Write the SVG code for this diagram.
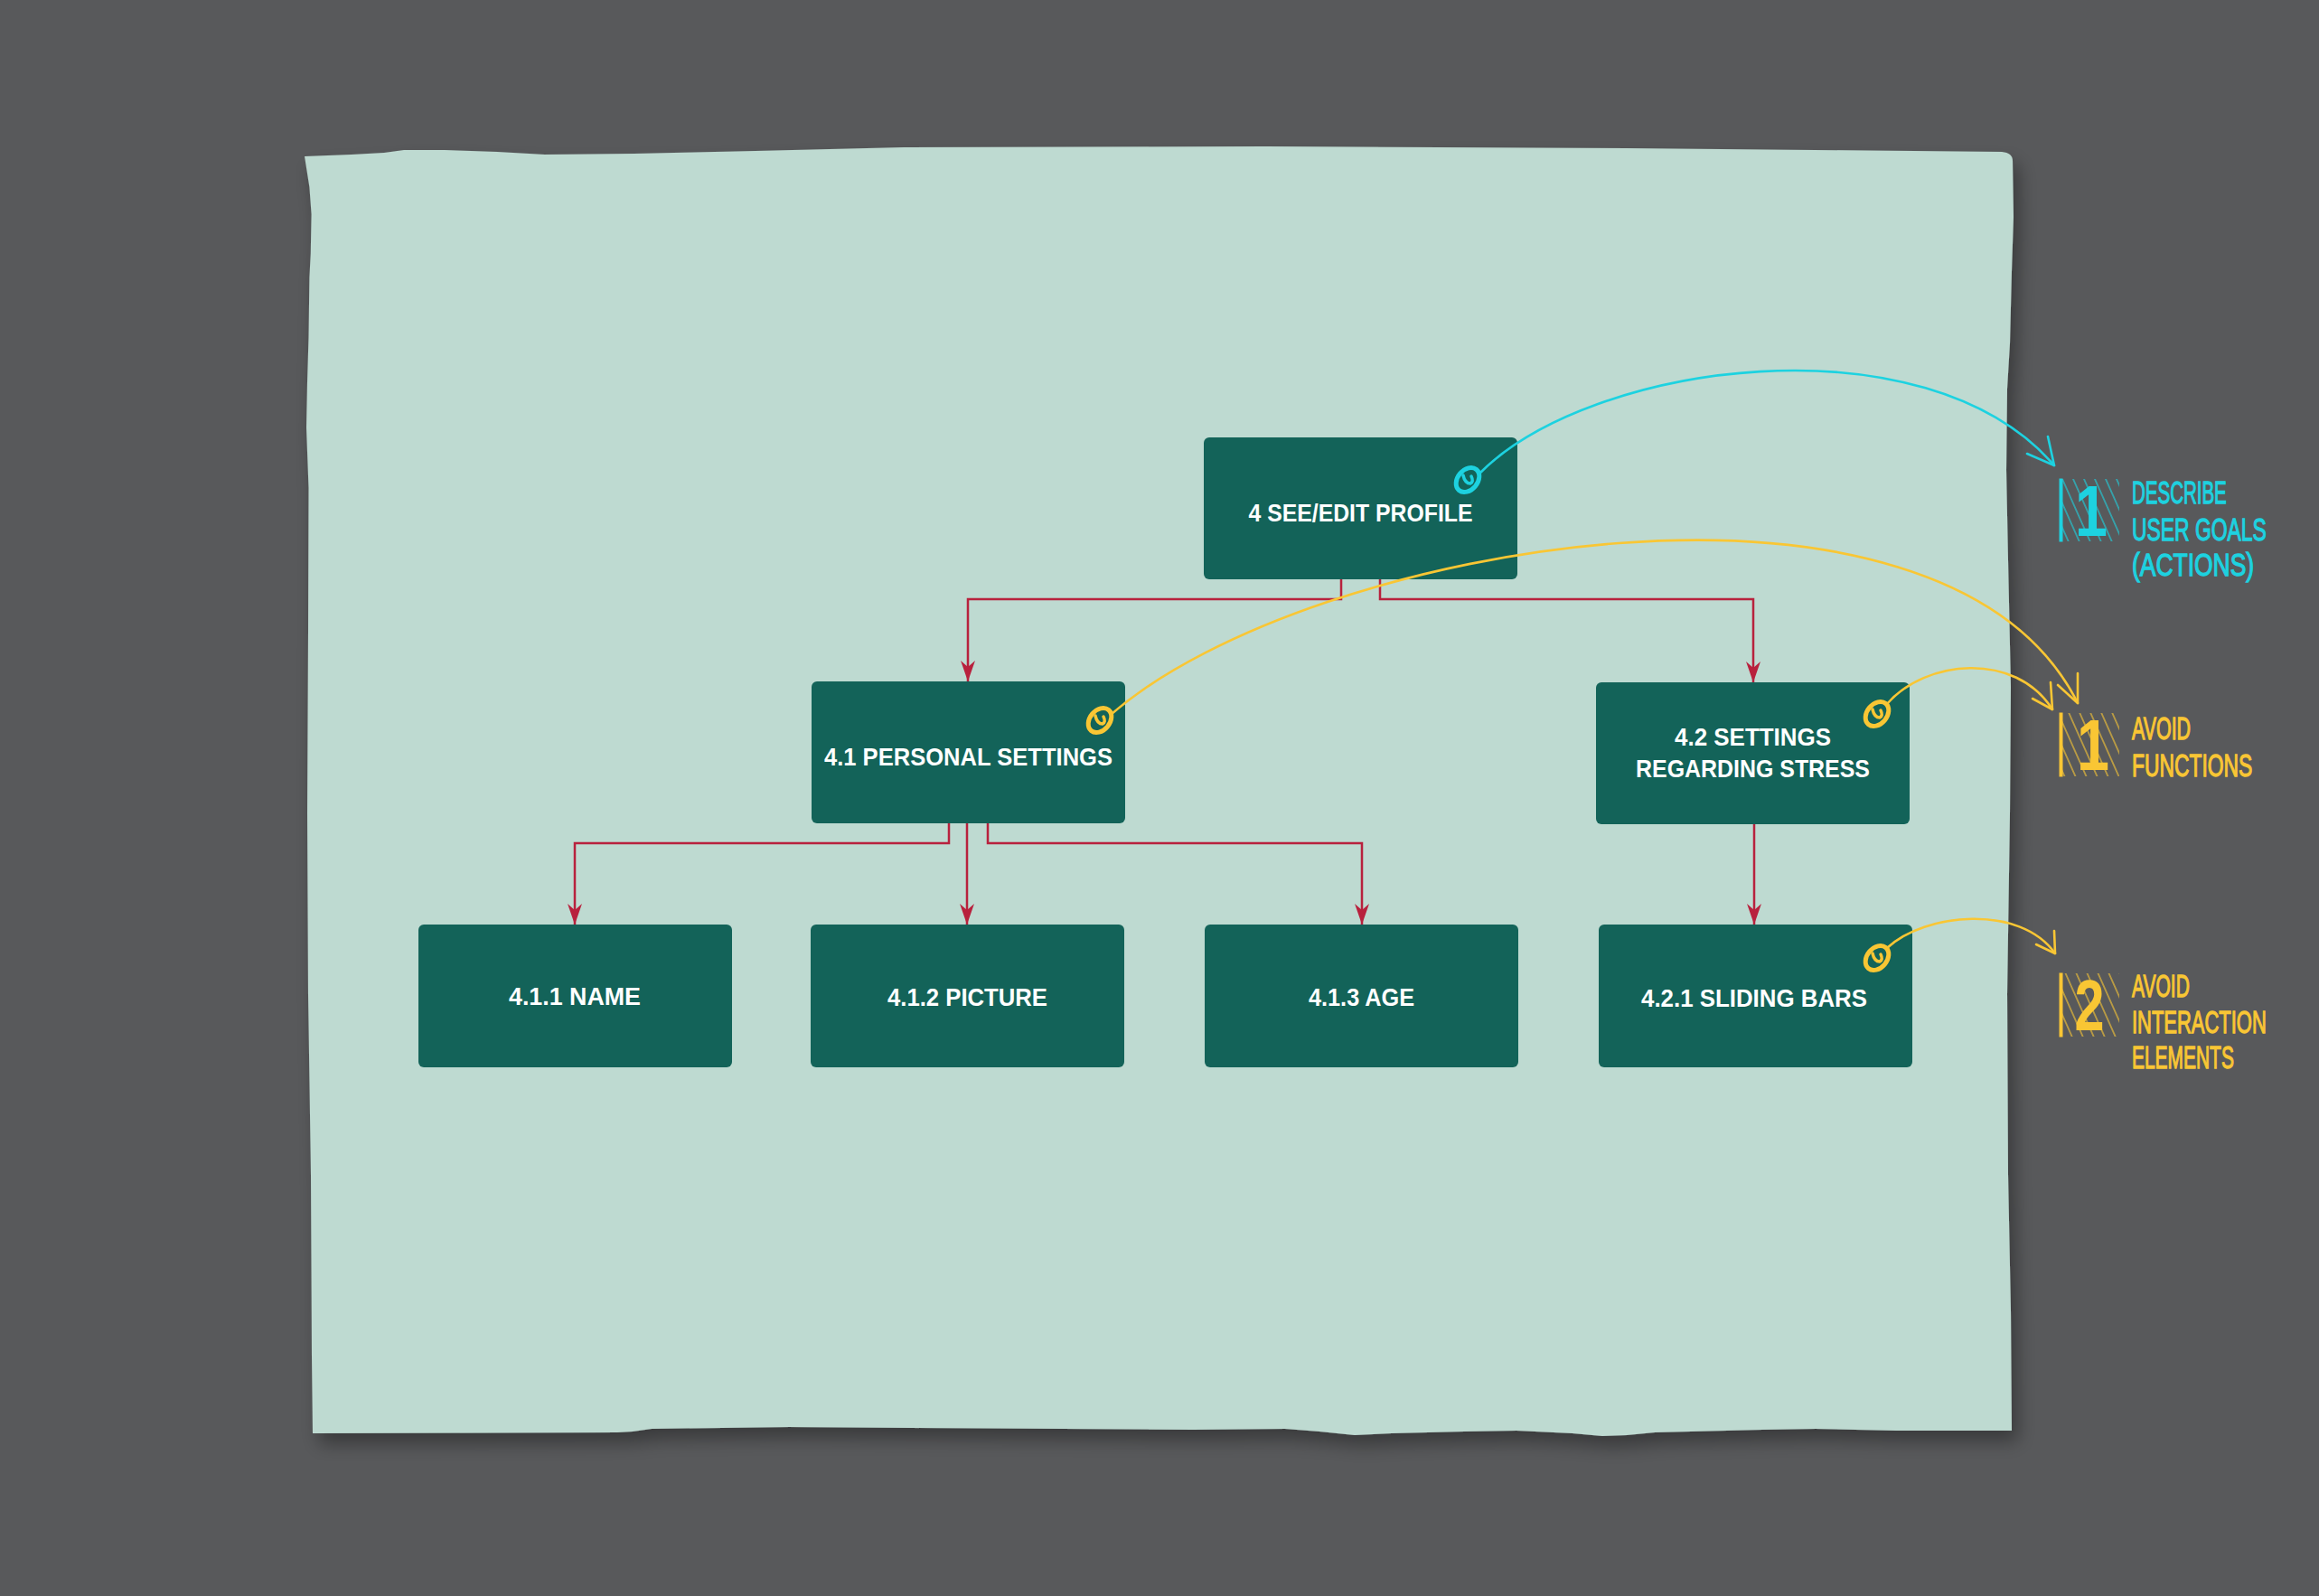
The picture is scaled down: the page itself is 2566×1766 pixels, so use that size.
<svg xmlns="http://www.w3.org/2000/svg" width="2566" height="1766" viewBox="0 0 2566 1766">
  <style>
    .box { fill: #136359; }
    .lbl { font-family: "Liberation Sans", Arial, sans-serif; font-size: 28px; font-weight: bold; fill: #ffffff; text-anchor: middle; }
    .conn { fill: none; stroke: #b8213d; stroke-width: 2.5; }
    .note { font-family: "Liberation Sans", Arial, sans-serif; font-size: 35px; stroke-width: 1.3; }
    .num { font-family: "Liberation Sans", Arial, sans-serif; font-size: 80px; font-weight: bold; text-anchor: middle; }
    .cyan { fill: #1dd2e0; stroke: #1dd2e0; }
    .yellow { fill: #f9c634; stroke: #f9c634; }
    .num.cyan, .num.yellow { stroke: none; }
    .curveC { fill: none; stroke: #1dd2e0; stroke-width: 2.6; stroke-linecap: round; stroke-linejoin: round; }
    .curveY { fill: none; stroke: #f9c634; stroke-width: 2.6; stroke-linecap: round; stroke-linejoin: round; }
  </style>
  <defs>
    <filter id="shadow" x="-5%" y="-5%" width="112%" height="115%">
      <feDropShadow dx="7" dy="12" stdDeviation="10" flood-color="#000000" flood-opacity="0.35"/>
    </filter>
    <marker id="ah" viewBox="0 0 23 16" refX="23" refY="8" markerWidth="23" markerHeight="16" markerUnits="userSpaceOnUse" orient="auto">
      <path d="M0,0 L23,8 L0,16 L7,8 Z" fill="#b8213d"/>
    </marker>
    <pattern id="hatchC" width="12" height="40" patternUnits="userSpaceOnUse" patternTransform="skewX(24)">
      <line x1="6" y1="0" x2="6" y2="40" stroke="#1dd2e0" stroke-width="1.2"/>
    </pattern>
    <pattern id="hatchY" width="12" height="40" patternUnits="userSpaceOnUse" patternTransform="skewX(24)">
      <line x1="6" y1="0" x2="6" y2="40" stroke="#f9c634" stroke-width="1.2"/>
    </pattern>
    <g id="pin">
      <ellipse cx="0" cy="0" rx="15" ry="11" transform="rotate(-50)" fill="none" stroke="currentColor" stroke-width="5"/>
      <path d="M-5,-5 Q-3,4 3,4 Q7,2 4,-4" fill="none" stroke="currentColor" stroke-width="3.5" stroke-linecap="round"/>
    </g>
  </defs>

  <rect x="0" y="0" width="2566" height="1766" fill="#58595b"/>

  <path id="paper" filter="url(#shadow)" fill="#bedad1" d="M337,173 L389,171 L425,169 L447,166 L492,166 L550,168 L603,171 L702,170 L746,169 L836,167 L1000,163 L1400,162 L1800,164 L2215,168 Q2227,169 2227,178 L2228,240 L2226,300 L2224,380 L2221,430 L2220,520 L2222,620 L2225,760 L2224,900 L2221,1100 L2222,1300 L2225,1450 L2226,1583 L2098,1583 L2009,1581 L1950,1582 L1831,1585 L1800,1588 L1773,1589 L1740,1586 L1678,1583 L1620,1584 L1540,1586 L1499,1588 L1460,1584 L1422,1581 L1320,1582 L874,1579 L721,1581 L700,1584 L683,1585 L346,1586 L345,1500 L344,1300 L341,1100 L340,900 L341,700 L341.5,540 L339,473 L340,423 L341.5,373 L342.4,307 L343.8,280 L344.6,237 L342.4,207 Z"/>

  <g id="connectors">
    <path class="conn" d="M1484,641 V663 H1071 V754" marker-end="url(#ah)"/>
    <path class="conn" d="M1527,641 V663 H1940 V755" marker-end="url(#ah)"/>
    <path class="conn" d="M1050,911 V933 H636 V1023" marker-end="url(#ah)"/>
    <path class="conn" d="M1070,911 V1023" marker-end="url(#ah)"/>
    <path class="conn" d="M1093,911 V933 H1507 V1023" marker-end="url(#ah)"/>
    <path class="conn" d="M1941,912 V1023" marker-end="url(#ah)"/>
  </g>

  <g id="node-4">
    <rect class="box" x="1332" y="484" width="347" height="157" rx="6"/>
    <text class="lbl" x="1505.5" y="577" textLength="248" lengthAdjust="spacingAndGlyphs">4 SEE/EDIT PROFILE</text>
  </g>
  <g id="node-4-1">
    <rect class="box" x="898" y="754" width="347" height="157" rx="6"/>
    <text class="lbl" x="1071.5" y="847" textLength="319" lengthAdjust="spacingAndGlyphs">4.1 PERSONAL SETTINGS</text>
  </g>
  <g id="node-4-2">
    <rect class="box" x="1766" y="755" width="347" height="157" rx="6"/>
    <text class="lbl" x="1939.5" y="825" textLength="173" lengthAdjust="spacingAndGlyphs">4.2 SETTINGS</text>
    <text class="lbl" x="1939.5" y="860" textLength="259" lengthAdjust="spacingAndGlyphs">REGARDING STRESS</text>
  </g>
  <g id="node-4-1-1">
    <rect class="box" x="463" y="1023" width="347" height="158" rx="6"/>
    <text class="lbl" x="636" y="1112" textLength="146" lengthAdjust="spacingAndGlyphs">4.1.1 NAME</text>
  </g>
  <g id="node-4-1-2">
    <rect class="box" x="897" y="1023" width="347" height="158" rx="6"/>
    <text class="lbl" x="1070.5" y="1113" textLength="177" lengthAdjust="spacingAndGlyphs">4.1.2 PICTURE</text>
  </g>
  <g id="node-4-1-3">
    <rect class="box" x="1333" y="1023" width="347" height="158" rx="6"/>
    <text class="lbl" x="1506.5" y="1113" textLength="117" lengthAdjust="spacingAndGlyphs">4.1.3 AGE</text>
  </g>
  <g id="node-4-2-1">
    <rect class="box" x="1769" y="1023" width="347" height="158" rx="6"/>
    <text class="lbl" x="1941" y="1114" textLength="250" lengthAdjust="spacingAndGlyphs">4.2.1 SLIDING BARS</text>
  </g>

  <g id="annotation-links">
    <use href="#pin" x="1624" y="531" color="#1dd2e0"/>
    <path class="curveC" d="M1637,524 C1760,400 2130,350 2273,515"/>
    <path class="curveC" d="M2243,502 L2273,515 L2266,483"/>

    <use href="#pin" x="1217" y="797" color="#f9c634"/>
    <path class="curveY" d="M1230,790 C1450,600 2150,480 2299,778"/>
    <path class="curveY" d="M2277,758 L2299,778 L2299,745"/>

    <use href="#pin" x="2077" y="790" color="#f9c634"/>
    <path class="curveY" d="M2088,779 C2130,730 2230,720 2271,785"/>
    <path class="curveY" d="M2249,773 L2271,785 L2269,755"/>

    <use href="#pin" x="2077" y="1060" color="#f9c634"/>
    <path class="curveY" d="M2088,1049 C2130,1010 2235,1000 2274,1055"/>
    <path class="curveY" d="M2253,1045 L2274,1055 L2273,1030"/>
  </g>

  <g id="note-1-goals">
    <rect x="2281" y="530" width="64" height="69" fill="url(#hatchC)"/>
    <rect x="2279" y="530" width="3" height="69" class="cyan" stroke="none"/>
    <text class="num cyan" x="2314" y="593" textLength="36" lengthAdjust="spacingAndGlyphs">1</text>
    <g transform="translate(2359,0) scale(0.62,1)">
      <text class="note cyan" x="0" y="557" textLength="169" lengthAdjust="spacingAndGlyphs">DESCRIBE</text>
      <text class="note cyan" x="0" y="598" textLength="240" lengthAdjust="spacingAndGlyphs">USER GOALS</text>
      <text class="note cyan" x="0" y="637" textLength="218" lengthAdjust="spacingAndGlyphs">(ACTIONS)</text>
    </g>
  </g>
  <g id="note-1-functions">
    <rect x="2281" y="789" width="64" height="70" fill="url(#hatchY)"/>
    <rect x="2279" y="789" width="3" height="70" class="yellow" stroke="none"/>
    <text class="num yellow" x="2316" y="852" textLength="36" lengthAdjust="spacingAndGlyphs">1</text>
    <g transform="translate(2359,0) scale(0.62,1)">
      <text class="note yellow" x="0" y="818" textLength="105" lengthAdjust="spacingAndGlyphs">AVOID</text>
      <text class="note yellow" x="0" y="859" textLength="215" lengthAdjust="spacingAndGlyphs">FUNCTIONS</text>
    </g>
  </g>
  <g id="note-2-interaction">
    <rect x="2281" y="1077" width="64" height="70" fill="url(#hatchY)"/>
    <rect x="2279" y="1077" width="3" height="70" class="yellow" stroke="none"/>
    <text class="num yellow" x="2312" y="1140" textLength="33" lengthAdjust="spacingAndGlyphs">2</text>
    <g transform="translate(2359,0) scale(0.62,1)">
      <text class="note yellow" x="0" y="1103" textLength="103" lengthAdjust="spacingAndGlyphs">AVOID</text>
      <text class="note yellow" x="0" y="1143" textLength="240" lengthAdjust="spacingAndGlyphs">INTERACTION</text>
      <text class="note yellow" x="0" y="1182" textLength="182" lengthAdjust="spacingAndGlyphs">ELEMENTS</text>
    </g>
  </g>
</svg>
